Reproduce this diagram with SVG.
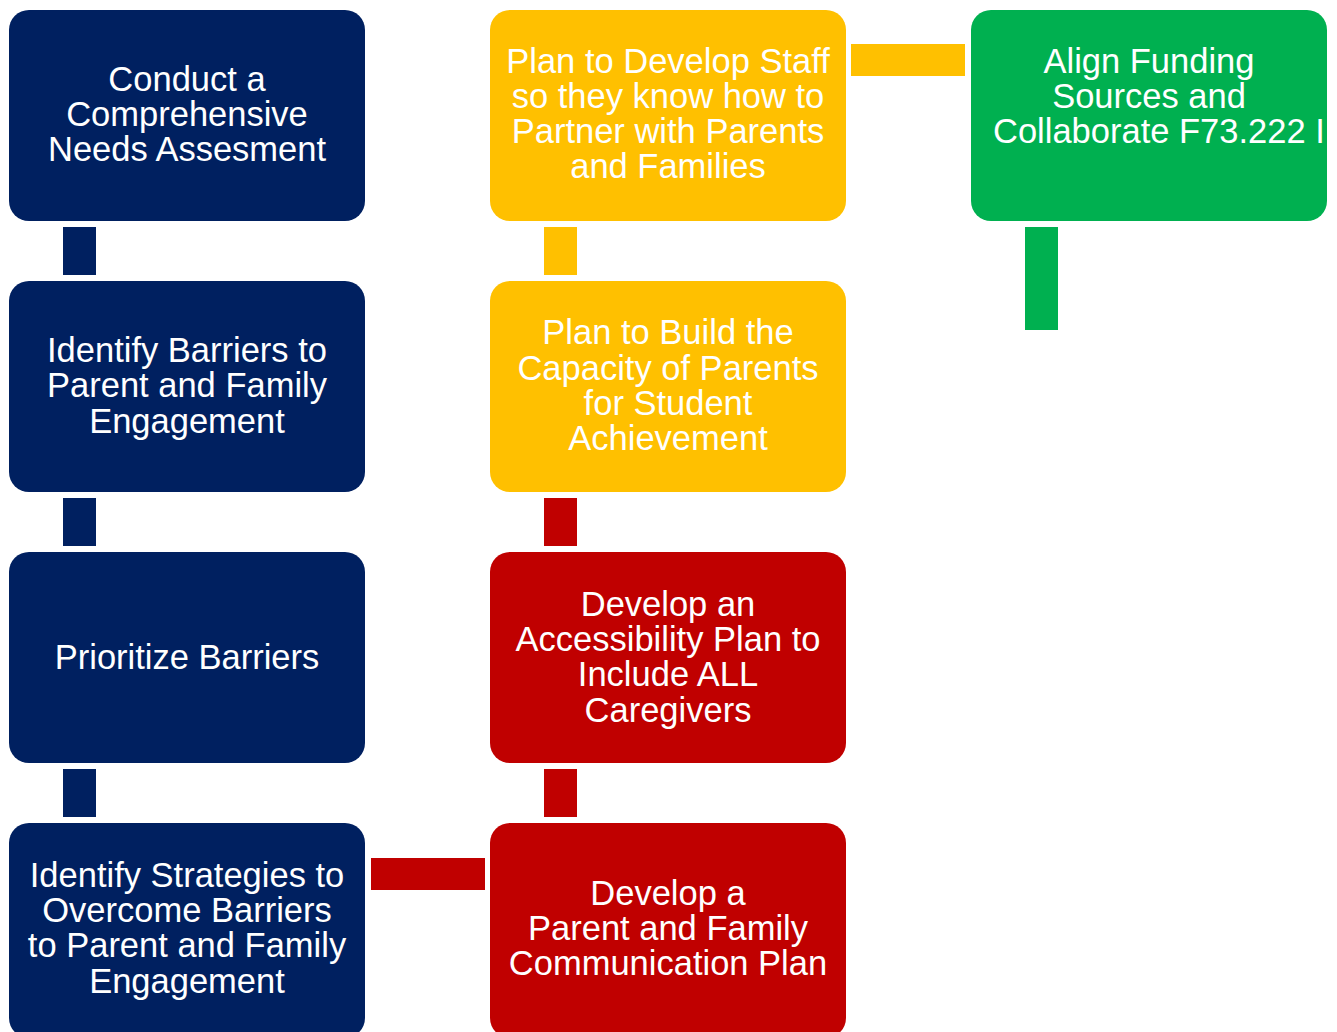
<svg xmlns="http://www.w3.org/2000/svg" width="1337" height="1032" viewBox="0 0 1337 1032">
<defs>
<style>
.t{font-family:"Liberation Sans",Arial,sans-serif;font-size:34.5px;fill:#fff;text-anchor:middle}
.navy{fill:#002060}.yel{fill:#FFC000}.red{fill:#C00000}.grn{fill:#00B050}
</style>
<clipPath id="cg"><rect x="971" y="10" width="356" height="211" rx="20"/></clipPath>
</defs>
<rect width="1337" height="1032" fill="#fff"/>
<g id="connectors">
<rect class="navy" x="63" y="227" width="33" height="48"/>
<rect class="navy" x="63" y="498" width="33" height="48"/>
<rect class="navy" x="63" y="769" width="33" height="48"/>
<rect class="yel" x="544" y="227" width="33" height="48"/>
<rect class="red" x="544" y="498" width="33" height="48"/>
<rect class="red" x="544" y="769" width="33" height="48"/>
<rect class="yel" x="851" y="44" width="114" height="32"/>
<rect class="red" x="371" y="858" width="114" height="32"/>
<rect class="grn" x="1025" y="227" width="33" height="103"/>
</g>
<g id="n1"><rect class="navy" x="9" y="10" width="356" height="211" rx="20"/>
<text class="t"><tspan x="187" y="91">Conduct a</tspan><tspan x="187" y="126">Comprehensive</tspan><tspan x="187" y="161">Needs Assesment</tspan></text></g>
<g id="n2"><rect class="navy" x="9" y="281" width="356" height="211" rx="20"/>
<text class="t"><tspan x="187" y="362">Identify Barriers to</tspan><tspan x="187" y="397">Parent and Family</tspan><tspan x="187" y="433">Engagement</tspan></text></g>
<g id="n3"><rect class="navy" x="9" y="552" width="356" height="211" rx="20"/>
<text class="t"><tspan x="187" y="669">Prioritize Barriers</tspan></text></g>
<g id="n4"><rect class="navy" x="9" y="823" width="356" height="215" rx="20"/>
<text class="t"><tspan x="187" y="887">Identify Strategies to</tspan><tspan x="187" y="922">Overcome Barriers</tspan><tspan x="187" y="957">to Parent and Family</tspan><tspan x="187" y="993">Engagement</tspan></text></g>
<g id="m1"><rect class="yel" x="490" y="10" width="356" height="211" rx="20"/>
<text class="t"><tspan x="668" y="73">Plan to Develop Staff</tspan><tspan x="668" y="108">so they know how to</tspan><tspan x="668" y="143">Partner with Parents</tspan><tspan x="668" y="178">and Families</tspan></text></g>
<g id="m2"><rect class="yel" x="490" y="281" width="356" height="211" rx="20"/>
<text class="t"><tspan x="668" y="344">Plan to Build the</tspan><tspan x="668" y="380">Capacity of Parents</tspan><tspan x="668" y="415">for Student</tspan><tspan x="668" y="450">Achievement</tspan></text></g>
<g id="m3"><rect class="red" x="490" y="552" width="356" height="211" rx="20"/>
<text class="t"><tspan x="668" y="616">Develop an</tspan><tspan x="668" y="651">Accessibility Plan to</tspan><tspan x="668" y="686">Include ALL</tspan><tspan x="668" y="722">Caregivers</tspan></text></g>
<g id="m4"><rect class="red" x="490" y="823" width="356" height="215" rx="20"/>
<text class="t"><tspan x="668" y="905">Develop a</tspan><tspan x="668" y="940">Parent and Family</tspan><tspan x="668" y="975">Communication Plan</tspan></text></g>
<g id="r1"><rect class="grn" x="971" y="10" width="356" height="211" rx="20"/>
<text class="t" clip-path="url(#cg)"><tspan x="1149" y="73">Align Funding</tspan><tspan x="1149" y="108">Sources and</tspan><tspan x="993" y="143" text-anchor="start">Collaborate F73.222 I</tspan></text></g>
</svg>
